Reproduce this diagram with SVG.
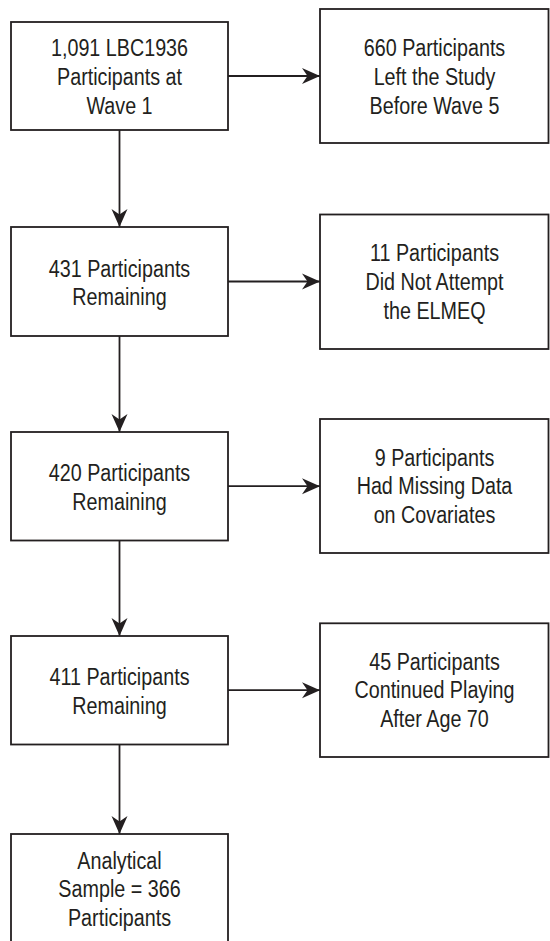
<svg xmlns="http://www.w3.org/2000/svg" width="550" height="941" viewBox="0 0 550 941">
<style>
.box{fill:#fff;stroke:#231f20;stroke-width:1.8}
.t{font-family:"Liberation Sans",Arial,sans-serif;font-size:23.5px;fill:#231f20;text-anchor:middle}
.c{fill:none;stroke:#231f20;stroke-width:1.8;marker-end:url(#ah)}
</style>
<defs>
<marker id="ah" markerUnits="userSpaceOnUse" viewBox="-19 -9 20 18" markerWidth="20" markerHeight="18" refX="0" refY="0" orient="auto">
<path d="M0,0 L-18,-8 L-12.5,0 L-18,8 Z" fill="#231f20"/>
</marker>
</defs>
<rect width="550" height="941" fill="#fff"/>
<g id="connectors">
<line class="c" x1="119.5" y1="130" x2="119.5" y2="227"/>
<line class="c" x1="119.5" y1="336" x2="119.5" y2="432"/>
<line class="c" x1="119.5" y1="540.5" x2="119.5" y2="636"/>
<line class="c" x1="119.5" y1="744.5" x2="119.5" y2="834"/>
<line class="c" x1="228" y1="76" x2="320" y2="76"/>
<line class="c" x1="228" y1="281.5" x2="320" y2="281.5"/>
<line class="c" x1="228" y1="486.2" x2="320" y2="486.2"/>
<line class="c" x1="228" y1="690.2" x2="320" y2="690.2"/>
</g>
<g id="n1">
<rect class="box" x="11" y="22" width="217" height="108"/>
<text class="t" transform="translate(119.5,0) scale(0.84,1)"><tspan x="0" y="56.5">1,091 LBC1936</tspan><tspan x="0" y="85.2">Participants at</tspan><tspan x="0" y="113.9">Wave 1</tspan></text>
</g>
<g id="n2">
<rect class="box" x="11" y="227" width="217" height="109"/>
<text class="t" transform="translate(119.5,0) scale(0.84,1)"><tspan x="0" y="276.6">431 Participants</tspan><tspan x="0" y="305.3">Remaining</tspan></text>
</g>
<g id="n3">
<rect class="box" x="11" y="432" width="217" height="108.5"/>
<text class="t" transform="translate(119.5,0) scale(0.84,1)"><tspan x="0" y="481.1">420 Participants</tspan><tspan x="0" y="509.8">Remaining</tspan></text>
</g>
<g id="n4">
<rect class="box" x="11" y="636" width="217" height="108.5"/>
<text class="t" transform="translate(119.5,0) scale(0.84,1)"><tspan x="0" y="685.1">411 Participants</tspan><tspan x="0" y="713.8">Remaining</tspan></text>
</g>
<g id="n5">
<rect class="box" x="11" y="834" width="217" height="130"/>
<text class="t" transform="translate(119.5,0) scale(0.84,1)"><tspan x="0" y="868.6">Analytical</tspan><tspan x="0" y="897.3">Sample = 366</tspan><tspan x="0" y="926">Participants</tspan></text>
</g>
<g id="r1">
<rect class="box" x="320" y="9" width="228.5" height="134"/>
<text class="t" transform="translate(434.5,0) scale(0.84,1)"><tspan x="0" y="56.5">660 Participants</tspan><tspan x="0" y="85.2">Left the Study</tspan><tspan x="0" y="113.9">Before Wave 5</tspan></text>
</g>
<g id="r2">
<rect class="box" x="320" y="214.5" width="228.5" height="134.5"/>
<text class="t" transform="translate(434.5,0) scale(0.84,1)"><tspan x="0" y="261.3">11 Participants</tspan><tspan x="0" y="290">Did Not Attempt</tspan><tspan x="0" y="318.7">the ELMEQ</tspan></text>
</g>
<g id="r3">
<rect class="box" x="320" y="419" width="228.5" height="134"/>
<text class="t" transform="translate(434.5,0) scale(0.84,1)"><tspan x="0" y="465.8">9 Participants</tspan><tspan x="0" y="494.5">Had Missing Data</tspan><tspan x="0" y="523.2">on Covariates</tspan></text>
</g>
<g id="r4">
<rect class="box" x="320" y="623.3" width="228.5" height="133.7"/>
<text class="t" transform="translate(434.5,0) scale(0.84,1)"><tspan x="0" y="669.8">45 Participants</tspan><tspan x="0" y="698.5">Continued Playing</tspan><tspan x="0" y="727.2">After Age 70</tspan></text>
</g>
</svg>
